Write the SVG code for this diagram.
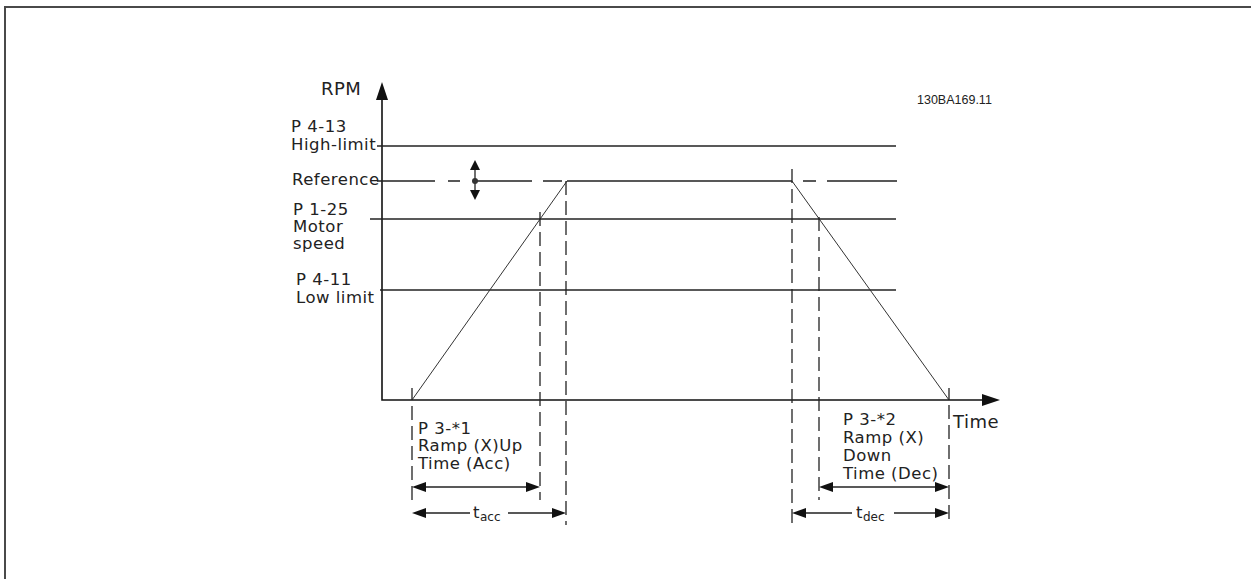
<svg xmlns="http://www.w3.org/2000/svg" width="1251" height="579" viewBox="0 0 1251 579">
<style>
text{font-family:"DejaVu Sans",Verdana,sans-serif;font-size:16.5px;letter-spacing:0.5px;fill:#222}
.code{font-family:"Liberation Sans",Arial,sans-serif;font-size:12.5px;letter-spacing:0;fill:#222}
.sub{font-size:12px;letter-spacing:0}
.ln{stroke:#222;stroke-width:1.3;fill:none}
.ax{stroke:#111;stroke-width:1.6;fill:none}
.rp{stroke:#333;stroke-width:1;fill:none}
.ds{stroke:#222;stroke-width:1.3;fill:none;stroke-dasharray:14 6}
.ah{fill:#111;stroke:none}
</style>
<rect width="1251" height="579" fill="#fff"/>
<path d="M5,579 V7 H1251" stroke="#4a4a4a" stroke-width="2" fill="none"/>
<g id="connectors">
<path class="ax" d="M382,92 V400 H990"/>
<polygon class="ah" points="382,82 376,100 388,100"/>
<polygon class="ah" points="1000,400 982,394 982,406"/>
<path class="ln" d="M377,146 H896"/>
<path class="ln" d="M377,181 H435 M448,181 H460 M475,181 H532 M543,181 H562 M567,181 H792 M803,181 H816 M827,181 H897"/>
<path class="ln" d="M370,219 H896"/>
<path class="ln" d="M380,290 H896"/>
<path class="rp" d="M412,400 L567,181"/>
<path class="rp" d="M792,181 L949,400"/>
<path class="ln" d="M475,166 V194"/>
<polygon class="ah" points="475,160 470,170 480,170"/>
<polygon class="ah" points="475,200 470,190 480,190"/>
<circle cx="475" cy="181" r="3" fill="#333"/>
<path class="ln" d="M412,388 V400"/>
<path class="ds" d="M412,406 V500"/>
<path class="ds" d="M540,212 V500"/>
<path class="ds" d="M566,181 V525"/>
<path class="ds" d="M792,169 V525"/>
<path class="ds" d="M819,217 V500"/>
<path class="ln" d="M949,388 V400"/>
<path class="ds" d="M949,405 V525"/>
<path class="ln" d="M424,487 H528"/>
<polygon class="ah" points="412,487 426,482 426,492"/>
<polygon class="ah" points="540,487 526,482 526,492"/>
<path class="ln" d="M424,513 H470 M508,513 H554"/>
<polygon class="ah" points="412,513 426,508 426,518"/>
<polygon class="ah" points="566,513 552,508 552,518"/>
<path class="ln" d="M831,487 H937"/>
<polygon class="ah" points="819,487 833,482 833,492"/>
<polygon class="ah" points="949,487 935,482 935,492"/>
<path class="ln" d="M804,513 H852 M894,513 H937"/>
<polygon class="ah" points="792,513 806,508 806,518"/>
<polygon class="ah" points="949,513 935,508 935,518"/>
</g>
<g id="rpm"><text x="321" y="95" style="font-size:18px">RPM</text></g>
<g id="code"><text class="code" x="917" y="104">130BA169.11</text></g>
<g id="high-limit"><text x="291" y="132">P 4-13</text><text x="291" y="150">High-limit</text></g>
<g id="reference"><text x="292" y="185">Reference</text></g>
<g id="motor-speed"><text x="293" y="215">P 1-25</text><text x="293" y="232">Motor</text><text x="293" y="249">speed</text></g>
<g id="low-limit"><text x="296" y="285">P 4-11</text><text x="296" y="303">Low limit</text></g>
<g id="time"><text x="953" y="428" style="font-size:18px">Time</text></g>
<g id="ramp-up"><text x="418" y="434">P 3-*1</text><text x="418" y="451">Ramp (X)Up</text><text x="418" y="469">Time (Acc)</text></g>
<g id="ramp-down"><text x="843" y="425">P 3-*2</text><text x="843" y="443">Ramp (X)</text><text x="843" y="461">Down</text><text x="843" y="479">Time (Dec)</text></g>
<g id="t-acc"><text x="473" y="518">t<tspan class="sub" dy="3">acc</tspan></text></g>
<g id="t-dec"><text x="856" y="518">t<tspan class="sub" dy="3">dec</tspan></text></g>
</svg>
